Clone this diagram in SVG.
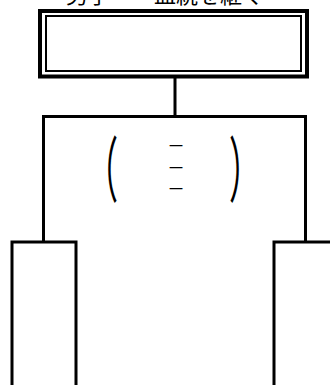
<svg xmlns="http://www.w3.org/2000/svg" width="330" height="385" viewBox="0 0 330 385">
<style>
.ln{fill:none;stroke:#000;stroke-width:3}
.t{font-family:"Noto Sans CJK JP","Noto Sans CJK SC",sans-serif;fill:#000}
</style>
<rect width="330" height="385" fill="#fff"/>
<text class="t" x="165" y="3" font-size="22" text-anchor="middle">男子　一血統を継ぐ</text>
<g id="connectors">
<path class="ln" d="M175 78V116.5M43.5 116.5H306M43.5 115V242M305.5 115V242"/>
</g>
<g id="top">
<rect x="40" y="11" width="267" height="65.5" fill="none" stroke="#000" stroke-width="4"/>
<rect x="46" y="16" width="255" height="55" fill="none" stroke="#000" stroke-width="2"/>
</g>
<g id="middle">
<text class="t" font-size="40" transform="translate(86,196) scale(0.8,1.78)">（</text>
<text class="t" font-size="40" transform="translate(229,196) scale(0.8,1.78)">）</text>
<text class="t" x="176" y="151" font-size="14" text-anchor="middle">一</text>
<text class="t" x="176" y="173" font-size="14" text-anchor="middle">一</text>
<text class="t" x="176" y="194" font-size="14" text-anchor="middle">一</text>
</g>
<g id="left">
<path class="ln" d="M12 390V242H76V390"/>
</g>
<g id="right">
<path class="ln" d="M274 390V242H340"/>
</g>
</svg>
